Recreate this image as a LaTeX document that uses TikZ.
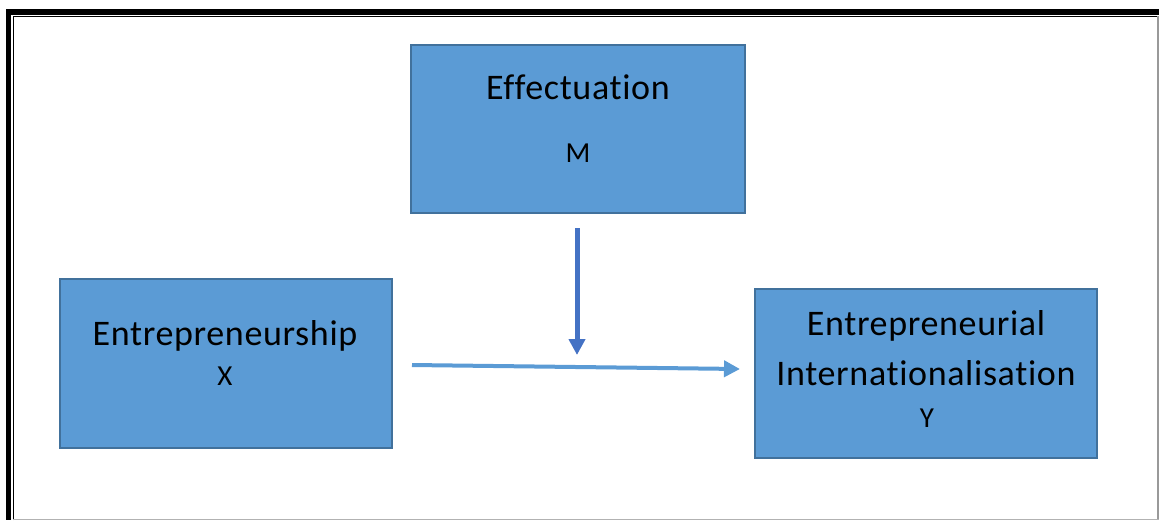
\documentclass[tikz,border=0pt]{standalone}
\usepackage{fontspec}
\setmainfont{Carlito}[Ligatures=NoCommon,LetterSpace=1.8]
\usetikzlibrary{arrows.meta}
\definecolor{boxfill}{HTML}{5B9BD5}
\definecolor{boxline}{HTML}{41719C}
\definecolor{accent}{HTML}{4472C4}
\begin{document}
\begin{tikzpicture}[x=1pt,y=-1pt,
  varbox/.style={draw=boxline,line width=2pt,fill=boxfill,rectangle,inner sep=0pt},
  bigtext/.style={anchor=base,inner sep=0pt,font=\fontsize{36}{42}\selectfont},
  smalltext/.style={anchor=base,inner sep=0pt,font=\fontsize{29}{34}\selectfont},
  link/.style={line width=4pt,-{Triangle[length=16pt,width=16pt]}}]
  \useasboundingbox (0,0) rectangle (1159,520);
  % page border: thick-thin frame on top and left, grey edges on right and bottom
  \fill[black] (6,8.5) rectangle (1159,15);
  \fill[black] (6,8.5) rectangle (11,520);
  \draw[line width=1.5pt] (13.5,520) -- (13.5,16.5) -- (1159,16.5);
  \draw[gray!80,line width=1.5pt] (1158,16) -- (1158,520);
  \draw[gray!60,line width=1.5pt] (13,519.3) -- (1159,519.3);
  % variable boxes
  \node[varbox,minimum width=334pt,minimum height=168pt] (eff) at (578,129) {};
  \node[varbox,minimum width=332pt,minimum height=169pt] (ent) at (226,363.5) {};
  \node[varbox,minimum width=342pt,minimum height=169pt] (int) at (926,373.5) {};
  % labels
  \node[bigtext] (efft) at (578,99) {Effectuation};
  \node[smalltext] (effm) at (578,162) {M};
  \node[bigtext] (entt) at (225,345) {Entrepreneurship};
  \node[smalltext] (entx) at (225,385) {X};
  \node[bigtext] (intt1) at (926,335) {Entrepreneurial};
  \node[bigtext] (intt2) at (926,385) {Internationalisation};
  \node[smalltext] (inty) at (927,427) {Y};
  % arrows
  \coordinate (modstart) at (577,228);
  \coordinate (modend) at (577,355);
  \coordinate (pathstart) at (412,365);
  \coordinate (pathend) at (740,369);
  \draw[link,draw=accent,fill=accent,line width=5pt] (modstart) -- (modend);
  \draw[link,draw=boxfill,fill=boxfill] (pathstart) -- (pathend);
\end{tikzpicture}
\end{document}
